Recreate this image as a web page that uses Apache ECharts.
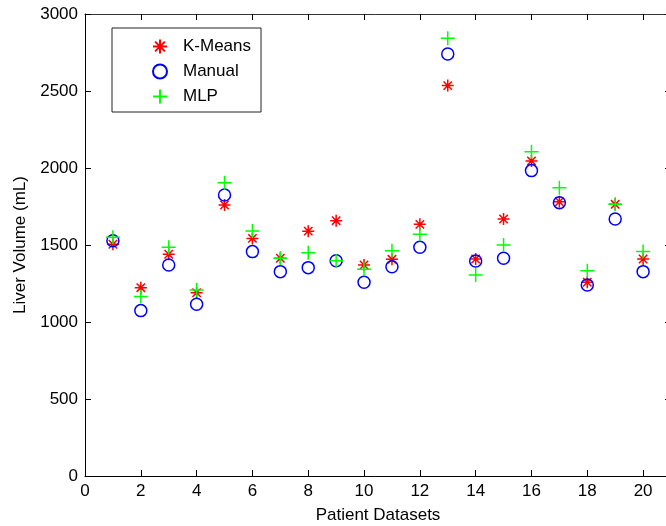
<!DOCTYPE html>
<html>
<head>
<meta charset="utf-8">
<script src="https://cdn.jsdelivr.net/npm/echarts@6/dist/echarts.min.js"></script>
<style>
html,body{margin:0;padding:0;background:#fff;}
#chart{width:666px;height:526px;}
</style>
</head>
<body>
<div id="chart"></div>
<script>
const patients = [1,2,3,4,5,6,7,8,9,10,11,12,13,14,15,16,17,18,19,20];
const kMeans = [1505,1223,1440,1190,1760,1543,1414,1590,1658,1370,1407,1634,2535,1409,1669,2046,1781,1258,1764,1409];
const manual = [1528,1074,1370,1115,1825,1457,1327,1353,1398,1258,1359,1485,2740,1396,1414,1983,1775,1240,1669,1327];
const mlp    = [1550,1165,1485,1208,1905,1591,1414,1450,1398,1342,1463,1570,2842,1305,1500,2106,1872,1333,1764,1457];
const xTicks = [0,2,4,6,8,10,12,14,16,18,20];
const yTicks = [0,500,1000,1500,2000,2500,3000];

const FONT = 'Liberation Sans, Arial, sans-serif';
const pair = (vals) => patients.map((p, i) => [p, vals[i]]);

const asterisk = 'path://M0,5L10,5M5,0L5,10M1.5,1.5L8.5,8.5M8.5,1.5L1.5,8.5';
const plus = 'path://M0,5L10,5M5,0L5,10';

const chart = echarts.init(document.getElementById('chart'), null, {renderer: 'canvas'});
chart.setOption({
  animation: false,
  backgroundColor: '#fff',
  grid: {left: 85, top: 14, width: 586, height: 462, containLabel: false, outerBoundsMode: 'none'},
  legend: {
    orient: 'vertical',
    left: 112, top: 28,
    padding: [10, 10, 7, 40],
    itemWidth: 36, itemHeight: 14, itemGap: 8,
    borderColor: '#222', borderWidth: 1,
    backgroundColor: '#fff',
    textStyle: {fontFamily: FONT, fontSize: 17, color: '#000'},
    data: ['K-Means', 'Manual', 'MLP']
  },
  xAxis: [{
    type: 'value', min: 0, max: 21, interval: 2,
    name: 'Patient Datasets', nameLocation: 'middle', nameGap: 31,
    nameTextStyle: {fontFamily: FONT, fontSize: 17, color: '#000', verticalAlign: 'top'},
    axisLine: {show: true, lineStyle: {color: '#000', width: 1}},
    axisTick: {show: true, inside: true, length: 6, lineStyle: {color: '#000'}},
    axisLabel: {fontFamily: FONT, fontSize: 17, color: '#000', margin: 7, showMaxLabel: false,
      formatter: v => xTicks.indexOf(v) >= 0 ? String(v) : ''},
    splitLine: {show: false}
  }, {
    type: 'value', min: 0, max: 21, interval: 2, position: 'top',
    axisLine: {show: true, onZero: false, lineStyle: {color: '#333', width: 1}},
    axisTick: {show: true, inside: true, length: 6, lineStyle: {color: '#000'}},
    axisLabel: {show: false},
    splitLine: {show: false}
  }],
  yAxis: [{
    type: 'value', min: 0, max: 3000, interval: 500,
    name: 'Liver Volume (mL)', nameLocation: 'middle', nameGap: 50,
    nameTextStyle: {fontFamily: FONT, fontSize: 17, color: '#000'},
    axisLine: {show: true, lineStyle: {color: '#000', width: 1}},
    axisTick: {show: true, inside: true, length: 6, lineStyle: {color: '#000'}},
    axisLabel: {fontFamily: FONT, fontSize: 17, color: '#000', margin: 7,
      formatter: v => yTicks.indexOf(v) >= 0 ? String(v) : ''},
    splitLine: {show: false}
  }, {
    type: 'value', min: 0, max: 3000, interval: 500, position: 'right',
    axisLine: {show: true, onZero: false, lineStyle: {color: '#000', width: 1}},
    axisTick: {show: true, inside: true, length: 6, lineStyle: {color: '#000'}},
    axisLabel: {show: false},
    splitLine: {show: false}
  }],
  series: [{
    name: 'K-Means', type: 'scatter', data: pair(kMeans),
    symbol: asterisk, symbolSize: 12,
    itemStyle: {color: 'rgba(0,0,0,0)', borderColor: '#ff0000', borderWidth: 1.5, opacity: 1}
  }, {
    name: 'Manual', type: 'scatter', data: pair(manual),
    symbol: 'circle', symbolSize: 12,
    itemStyle: {color: 'rgba(0,0,0,0)', borderColor: '#0000ff', borderWidth: 1.5, opacity: 1}
  }, {
    name: 'MLP', type: 'scatter', data: pair(mlp),
    symbol: plus, symbolSize: 14,
    itemStyle: {color: 'rgba(0,0,0,0)', borderColor: '#00ff00', borderWidth: 1.5, opacity: 1}
  }]
});
</script>
</body>
</html>
